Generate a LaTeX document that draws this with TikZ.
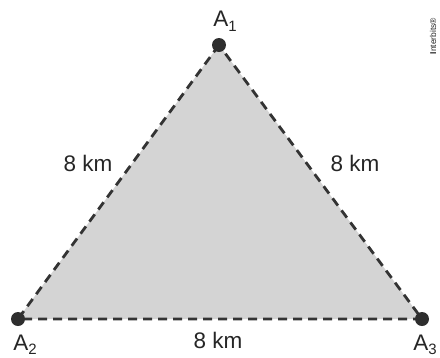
\documentclass[tikz,border=0pt]{standalone}
\usepackage{fontspec}
\setmainfont{Liberation Sans}
\begin{document}
\begin{tikzpicture}[x=1pt,y=-1pt,
  region/.style={fill=black!17},
  edge/.style={draw=black!80,line width=2.8pt,dash pattern=on 9pt off 6pt},
  vdot/.style={circle,fill=black!82,inner sep=0pt,minimum size=14pt},
  lbl/.style={font=\fontsize{22.5}{22.5}\selectfont,text=black!85,inner sep=0pt}]
\useasboundingbox (0,0) rectangle (440,357);
\coordinate (p1) at (219,45);
\coordinate (p2) at (18,319);
\coordinate (p3) at (422,319);
\fill[region] (p1) -- (p2) -- (p3) -- cycle;
\draw[edge] (p1) -- (p2) -- (p3) -- cycle;
\node[vdot] (d1) at (p1) {};
\node[vdot] (d2) at (p2) {};
\node[vdot] (d3) at (p3) {};
\node[lbl] (n1) at (225,21) {A\raisebox{-5pt}{\fontsize{15}{15}\selectfont 1}};
\node[lbl] (n2) at (25,345) {A\raisebox{-4pt}{\fontsize{15}{15}\selectfont 2}};
\node[lbl] (n3) at (425,345) {A\raisebox{-4pt}{\fontsize{15}{15}\selectfont 3}};
\node[lbl] (e12) at (88,163) {8 km};
\node[lbl] (e13) at (355,163) {8 km};
\node[lbl] (e23) at (218,340) {8 km};
\node[font=\fontsize{8.5}{8.5}\selectfont,text=black!85,rotate=90,inner sep=0pt] (wm) at (433,36) {\textbf{I}nterbits®};
\end{tikzpicture}
\end{document}
